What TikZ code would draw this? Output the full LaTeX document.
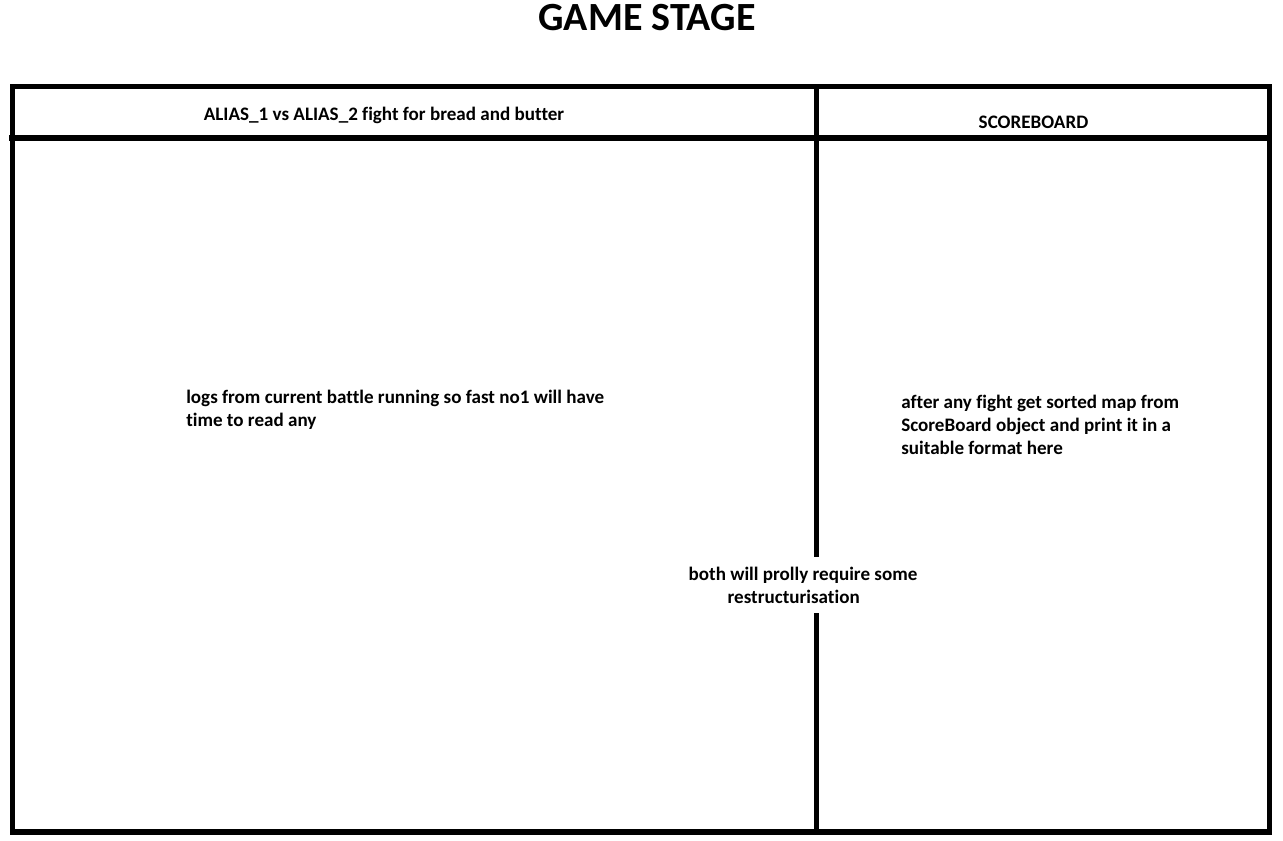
\documentclass[tikz,border=0pt]{standalone}
\usepackage{fontspec}
\setmainfont{Carlito}[Ligatures=NoCommon]
\begin{document}
\begin{tikzpicture}[x=0.75pt,y=-0.75pt,
  frame/.style={line width=3.8pt},
  bodytext/.style={font=\fontsize{14.3}{17.25}\selectfont\bfseries, inner sep=0pt},
  hdrtext/.style={font=\fontsize{14.3}{17}\selectfont\bfseries, inner sep=0pt},
  titletext/.style={font=\fontsize{30}{36}\selectfont\bfseries, inner sep=0pt}]
\useasboundingbox[fill=white] (0,0) rectangle (1283,841);
% frame
\coordinate (tl) at (12.5,86.5);
\coordinate (br) at (1269.5,832);
\draw[frame] (tl) rectangle (br);
\coordinate (hl) at (9,138);
\coordinate (hr) at (1272,138);
\draw[frame] (hl) -- (hr);
\coordinate (vt) at (816.5,86.5);
\coordinate (vb) at (816.5,832);
\draw[frame] (vt) -- (vb);
% texts
\node[titletext, anchor=base] (title) at (647,31) {GAME STAGE};
\node[hdrtext, anchor=base] (h1) at (384,121) {ALIAS\_1 vs ALIAS\_2 fight for bread and butter};
\node[hdrtext, anchor=base] (h2) at (1033.5,129) {SCOREBOARD};
\node[bodytext, anchor=north west, align=left] (logs) at (186,390) {logs from current battle running so fast no1 will have\\time to read any};
\node[bodytext, anchor=north west, align=left] (score) at (901,395) {after any fight get sorted map from\\ScoreBoard object and print it in a\\suitable format here};
\node[bodytext, align=center, fill=white, inner ysep=7pt, inner xsep=0pt] (both) at (803,585) {both will prolly require some\\restructurisation\hspace*{14pt}};
\end{tikzpicture}
\end{document}
